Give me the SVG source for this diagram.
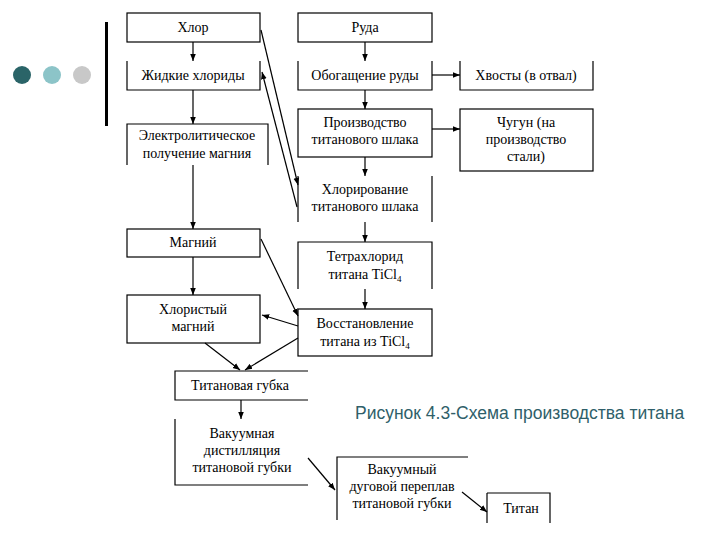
<svg xmlns="http://www.w3.org/2000/svg" width="720" height="540" viewBox="0 0 720 540">
<defs><marker id="a" viewBox="0 0 10 10" refX="10" refY="5" markerWidth="6" markerHeight="6" orient="auto"><path d="M0,1 L10,5 L0,9z" fill="#000"/></marker></defs>
<style>
.b{fill:#fff;stroke:#000;stroke-width:1.2}
.l{fill:none;stroke:#000;stroke-width:1.2}
.t text{font-family:"Liberation Serif","Times New Roman","DejaVu Serif",serif;font-size:14px;text-anchor:middle;fill:#000}
.c{stroke:#000;stroke-width:1.2;fill:none;marker-end:url(#a)}
</style>
<rect width="720" height="540" fill="#fff"/>
<circle cx="22" cy="75" r="9" fill="#2a6468"/><circle cx="52" cy="75" r="9" fill="#8cc4c8"/><circle cx="82" cy="75" r="9" fill="#c8c8c8"/>
<rect x="105" y="22" width="3" height="104" fill="#000"/>
<g class="t">
<g id="n1"><rect class="b" x="127" y="13" width="133" height="29"/><text x="193" y="32">Хлор</text></g>
<g id="n2"><path class="l" d="M127,61V90H260V61"/><text x="193" y="80">Жидкие хлориды</text></g>
<g id="n3"><path class="l" d="M127,165V124H268V165"/><text x="197" y="140">Электролитическое</text><text x="197" y="158">получение магния</text></g>
<g id="n4"><rect class="b" x="127" y="229" width="133" height="28"/><text x="193" y="247">Магний</text></g>
<g id="n5"><rect class="b" x="127" y="295" width="133" height="48"/><text x="193" y="314">Хлористый</text><text x="193" y="331">магний</text></g>
<g id="n6"><path class="l" d="M308,371H175V400H308"/><text x="240" y="390">Титановая губка</text></g>
<g id="n7"><path class="l" d="M308,485H175V419"/><text x="242" y="438">Вакуумная</text><text x="242" y="455">дистилляция</text><text x="242" y="472">титановой губки</text></g>
<g id="n8"><path class="l" d="M337,520V457H468"/><text x="402" y="474">Вакуумный</text><text x="402" y="491">дуговой переплав</text><text x="402" y="508">титановой губки</text></g>
<g id="n9"><path class="l" d="M487,493H550V523M487,493V523"/><text x="521" y="513">Титан</text></g>
<g id="n10"><rect class="b" x="298" y="13" width="134" height="29"/><text x="365" y="32">Руда</text></g>
<g id="n11"><path class="l" d="M298,61V90H432V61"/><text x="365" y="80">Обогащение руды</text></g>
<g id="n12"><path class="l" d="M460,61V90H593V61"/><text x="526" y="80">Хвосты (в отвал)</text></g>
<g id="n13"><rect class="b" x="298" y="109" width="134" height="48"/><text x="365" y="127">Производство</text><text x="365" y="144">титанового шлака</text></g>
<g id="n14"><rect class="b" x="460" y="109" width="133" height="62"/><text x="526" y="127">Чугун (на</text><text x="526" y="144">производство</text><text x="526" y="161">стали)</text></g>
<g id="n15"><path class="l" d="M298,176V222M432,176V222"/><text x="365" y="194">Хлорирование</text><text x="365" y="211">титанового шлака</text></g>
<g id="n16"><path class="l" d="M298,289V242H432V289"/><text x="365" y="261">Тетрахлорид</text><text x="365" y="279">титана TiCl<tspan font-size="9" dy="3">4</tspan></text></g>
<g id="n17"><rect class="b" x="298" y="309" width="134" height="47"/><text x="365" y="328">Восстановление</text><text x="365" y="346">титана из TiCl<tspan font-size="9" dy="3">4</tspan></text></g>
</g>
<g id="connectors">
<path class="c" d="M193,42V61"/><path class="c" d="M193,90V124"/><path class="c" d="M193,165V229"/><path class="c" d="M193,257V295"/>
<path class="c" d="M365,42V61"/><path class="c" d="M365,90V109"/><path class="c" d="M365,157V176"/><path class="c" d="M365,222V242"/><path class="c" d="M365,289V309"/>
<path class="c" d="M432,75H460"/><path class="c" d="M432,129H460"/>
<path class="c" d="M261,30L298,185"/><path class="c" d="M297,207L262,72"/>
<path class="c" d="M261,239L298,316"/><path class="c" d="M298,326L262,315"/>
<path class="c" d="M205,343L240,370"/><path class="c" d="M298,338L245,370"/>
<path class="c" d="M241,400V419"/><path class="c" d="M308,458L335,490"/><path class="c" d="M462,492L487,512"/>
</g>
<text x="355" y="419" style="font-family:'Liberation Sans',sans-serif;font-size:17.5px;fill:#2f5f6a">Рисунок 4.3-Схема производства титана</text>
</svg>
